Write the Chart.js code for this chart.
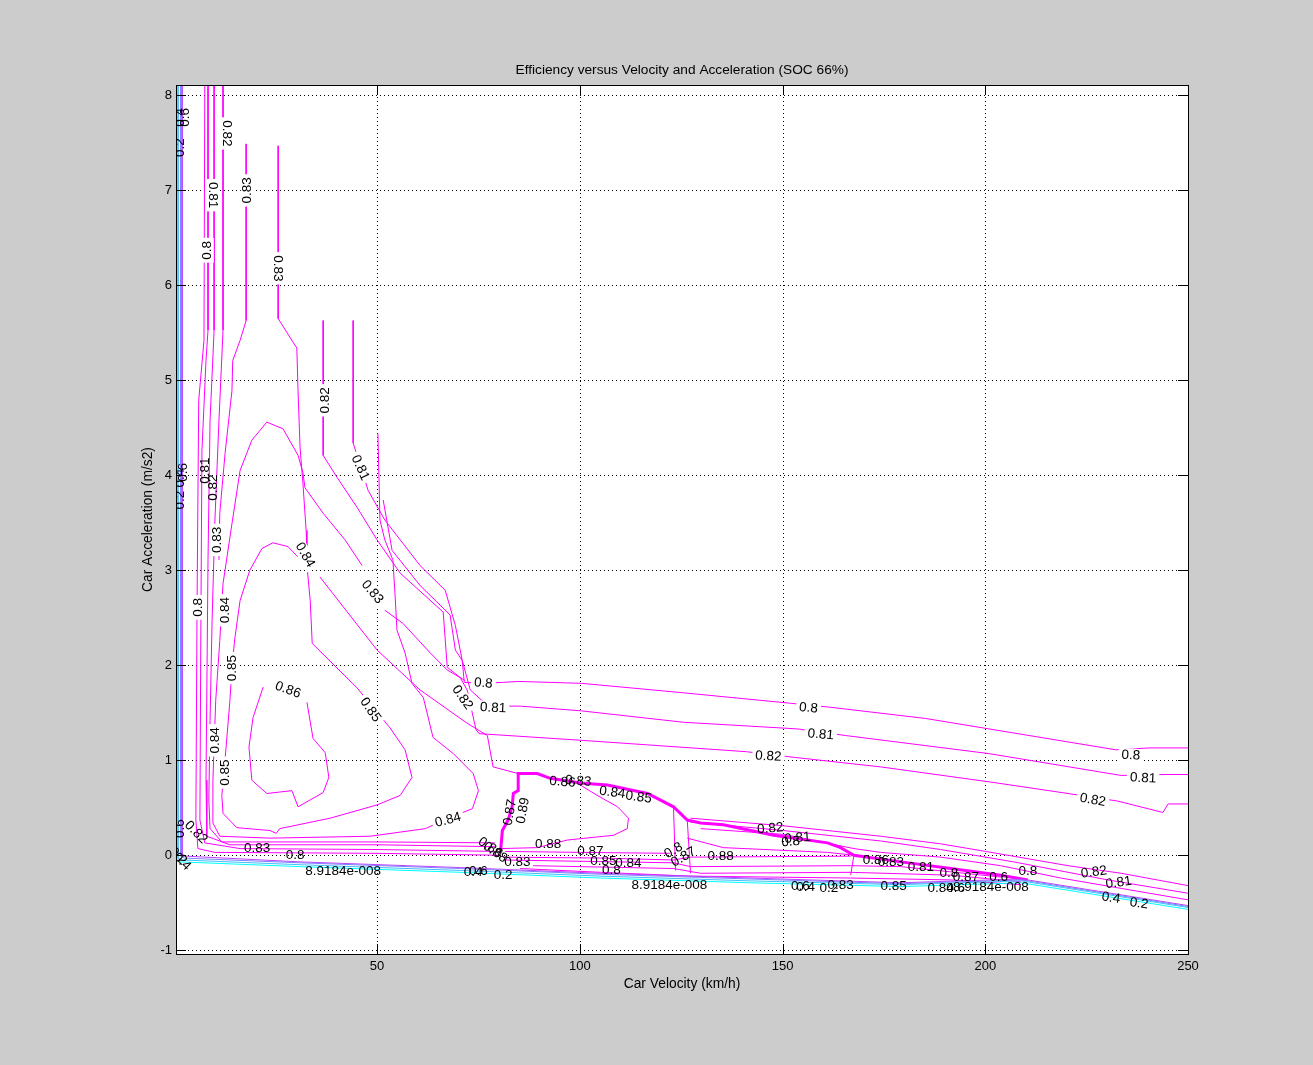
<!DOCTYPE html>
<html>
<head>
<meta charset="utf-8">
<script src="https://cdn.jsdelivr.net/npm/chart.js@4.4.0/dist/chart.umd.min.js"></script>
<style>
	html, body { margin: 0; padding: 0; background: #cccccc; }
	#wrap { width: 1313px; height: 1065px; position: relative; }
</style>
</head>
<body>
<div id="wrap"><canvas id="effChart"></canvas></div>
<script>
// Axis ticks
const xTicks = [50, 100, 150, 200, 250];
const yTicks = [-1, 0, 1, 2, 3, 4, 5, 6, 7, 8];

// Contour lines, [velocity km/h, acceleration m/s2]
const eff000 = [[0.6, 8.11], [0.6, -0.05], [1.4, -0.07], [31, -0.12], [70.5, -0.18], [105.1, -0.24], [142, -0.29], [179.2, -0.33], [208.8, -0.29], [250, -0.57]];
const eff020 = [[0.9, 8.11], [0.9, -0.03], [2, -0.05], [31, -0.1], [70.5, -0.16], [105, -0.22], [142, -0.27], [179, -0.31], [208.8, -0.27], [250, -0.55]];
const eff040 = [[1.6, 8.11], [1.6, -0.01], [2.5, -0.03], [31, -0.08], [70.5, -0.14], [105, -0.2], [142, -0.25], [179, -0.3], [209, -0.26], [250, -0.54]];
const eff060 = [[1.9, 8.11], [1.9, 0.01], [3, -0.01], [31, -0.07], [70.5, -0.13], [105, -0.19], [142, -0.24], [179, -0.29], [209, -0.25], [250, -0.53]];

const eff080Left = [[7.5, 8.11], [7.3, 5.42], [6.0, 4.79], [5.6, 2.68], [5.3, 0.37], [5.8, 0.07], [10, 0.03], [50, 0.02], [80.4, 0]];
const eff081Left = [[8.3, 8.11], [8.3, 5.53], [7.8, 5.21], [6.8, 4.26], [6.5, 2.16], [6.3, 0.37], [7.5, 0.13], [16.2, 0.07], [50, 0.06], [79.6, 0.04]];
const eff082Left = [[9.8, 8.11], [9.8, 5.53], [8.8, 4.58], [8.3, 3.11], [7.8, 0.79], [8.0, 0.2], [13.7, 0.11], [50, 0.11], [79.1, 0.09]];
const eff083Left = [[12, 8.11], [12, 5.53], [11, 4.58], [10, 3.53], [9.3, 2.47], [8.8, 1.42], [8.5, 0.58], [8.8, 0.28], [11.7, 0.14], [50, 0.14], [79.1, 0.13]];
const eff083Top = [[17.7, 7.49], [17.7, 5.63], [16.2, 5.42], [14.4, 5.21], [14.2, 4.89], [12.5, 4.23], [11.2, 3.6], [11, 3.11]];
const eff083Upper = [[25.6, 7.47], [25.6, 5.65], [30.2, 5.34], [30.5, 4.89], [31, 4.29], [31.7, 3.92], [32.5, 3.42], [32.7, 3.21]];

const eff084Loop = [[50.2, 4.44], [50.7, 3.53], [51.9, 3.32], [53.9, 3.11], [54.4, 2.76], [54.9, 2.37], [56.9, 2.13], [58.6, 1.81], [61.4, 1.66], [63.8, 1.24], [68.8, 1.07], [73.7, 0.86], [75, 0.68], [73.5, 0.49], [67.5, 0.39], [61.9, 0.28], [48.3, 0.2], [23.6, 0.18], [11.2, 0.2], [9.5, 0.34], [9.5, 0.79], [10.2, 1.63], [11.2, 2.26], [12, 2.86], [14.2, 3.49], [16.2, 4.05], [19.1, 4.37], [22.8, 4.56], [26.8, 4.49], [30.5, 4.21], [31.7, 4.03], [32.2, 3.87], [36.7, 3.6], [42.1, 3.32], [46.3, 3.05]];
const eff083Diag = [[51.9, 2.58], [56.4, 2.44], [63.1, 2.13], [67.3, 1.95], [71.7, 1.84]];
const eff084Ramp = [[35.9, 2.93], [50, 2.16], [60.6, 1.74], [72.2, 1.39], [77.2, 1.26], [78.6, 0.93], [84.8, 0.86]];
const eff085Loop = [[32.7, 3.05], [33.5, 2.68], [34, 2.23], [45.1, 1.76], [53.2, 1.34], [56.9, 1.11], [58.6, 0.82], [55.7, 0.63], [50, 0.53], [38.4, 0.39], [26, 0.28], [25.1, 0.23], [23.6, 0.26], [15.4, 0.29], [12, 0.44], [11.7, 0.63], [12.7, 1.11], [13.7, 1.63], [14.2, 1.97], [14.9, 2.28], [16.2, 2.68], [18.6, 3.0], [21.6, 3.23], [24.3, 3.29], [28, 3.25], [30.5, 3.14]];
const eff086Loop = [[21.9, 1.77], [19.4, 1.45], [18.4, 1.14], [19.1, 0.79], [22.8, 0.65], [29, 0.68], [30.5, 0.51], [36.7, 0.66], [38.1, 0.82], [37.2, 1.08], [34.2, 1.23], [32.7, 1.61]];

const eff082Long = [[36.7, 5.63], [36.7, 4.21], [40.1, 3.98], [45.1, 3.66], [50, 3.32], [55.7, 2.97], [66.3, 2.56], [67.3, 1.98], [70.5, 1.87], [72.2, 1.74], [74.4, 1.32], [75.2, 1.28], [100.4, 1.21], [141.1, 1.09], [153, 1.03], [174.2, 0.93], [201.4, 0.77], [220.4, 0.65], [232.7, 0.57], [243.8, 0.45], [245.1, 0.54], [250, 0.54]];
const eff081Long = [[44.1, 5.63], [44.1, 4.34], [47.8, 3.84], [51.9, 3.53], [60.6, 3.05], [66.8, 2.79], [69.3, 2.42], [71, 2.05], [73, 1.74], [77.4, 1.57], [85.3, 1.57], [100.4, 1.52], [125.6, 1.4], [153.7, 1.33], [165.6, 1.26], [200.9, 1.07], [233.5, 0.84], [244.1, 0.85], [250, 0.85]];
const eff080Long = [[51.5, 3.74], [53.7, 3.21], [60.6, 2.84], [68, 2.53], [69.3, 2.16], [71, 2.05], [71.5, 1.82], [76.2, 1.81], [81.1, 1.82], [84.8, 1.83], [100.4, 1.81], [125.6, 1.71], [152, 1.6], [161.4, 1.56], [185.3, 1.44], [200.9, 1.33], [232.2, 1.11], [240.6, 1.13], [250, 1.13]];

const eff089Edge = [[80.4, 0.02], [80.9, 0.26], [82.3, 0.37], [83.3, 0.51], [83.6, 0.65], [84.8, 0.68], [84.8, 0.86], [89.5, 0.86], [92.7, 0.81], [100.1, 0.76], [106.8, 0.74], [116.7, 0.65], [123.1, 0.51], [126.5, 0.37], [129.8, 0.34], [135.4, 0.32], [147.8, 0.21], [161.1, 0.13], [164.3, 0.08], [167.6, 0], [179.2, -0.07], [191.5, -0.14], [203.8, -0.21], [210.5, -0.26]];
const eff088Loop = [[80.4, 0.07], [89.5, 0.08], [96.9, 0.16], [108.3, 0.21], [111.7, 0.28], [112, 0.39], [109.3, 0.51], [104.3, 0.63], [100.1, 0.74]];
const eff087Regen = [[81.6, 0.04], [100.1, 0.03], [122.3, 0.02]];
const eff086Regen = [[81.1, -0.02], [105.1, -0.03], [123.1, -0.05], [127.3, -0.02], [166.8, -0.01]];
const eff085Regen = [[81.1, -0.05], [123.1, -0.08], [127.3, -0.12], [166.8, -0.11], [179.2, -0.12], [203.8, -0.23]];
const eff084Regen = [[88.5, -0.11], [123.1, -0.14], [129.8, -0.19], [166.8, -0.18], [191.5, -0.21], [208.8, -0.28]];
const eff083Regen = [[85.3, -0.14], [105.1, -0.18], [127.3, -0.22], [166.8, -0.24], [191.5, -0.26], [208.8, -0.31]];
const eff088Step1 = [[123.1, 0.51], [123.6, -0.16]];
const eff088Step2 = [[126.5, 0.37], [127.3, -0.19]];
const eff088Step3 = [[167.6, 0], [166.8, -0.21]];
const eff088Tail = [[126.5, 0.18], [135.4, 0.08], [161.1, 0.03], [167.6, 0]];

const eff082High = [[127.3, 0.39], [150.2, 0.31], [174.2, 0.2], [189, 0.12], [200.1, 0.04], [220.4, -0.11], [233.5, -0.19], [250, -0.32]];
const eff081High = [[127.3, 0.35], [150.2, 0.26], [174.2, 0.15], [189, 0.06], [207, -0.07], [230.2, -0.26], [250, -0.4]];
const eff080High = [[129.8, 0.28], [150.2, 0.22], [167.6, 0.07], [174.2, 0.03], [189, -0.02], [203.8, -0.11], [218.6, -0.24], [250, -0.47]];

const contours = [
	{ level: 0, pts: eff000 }, { level: 0.2, pts: eff020 }, { level: 0.4, pts: eff040 }, { level: 0.6, pts: eff060 },
	{ level: 0.8, pts: eff080Left }, { level: 0.81, pts: eff081Left }, { level: 0.82, pts: eff082Left },
	{ level: 0.83, pts: eff083Left }, { level: 0.83, pts: eff083Top }, { level: 0.83, pts: eff083Upper },
	{ level: 0.84, pts: eff084Loop }, { level: 0.83, pts: eff083Diag }, { level: 0.84, pts: eff084Ramp },
	{ level: 0.85, pts: eff085Loop }, { level: 0.86, pts: eff086Loop },
	{ level: 0.82, pts: eff082Long }, { level: 0.81, pts: eff081Long }, { level: 0.8, pts: eff080Long },
	{ level: 0.89, pts: eff089Edge, width: 3 }, { level: 0.88, pts: eff088Loop },
	{ level: 0.87, pts: eff087Regen }, { level: 0.86, pts: eff086Regen }, { level: 0.85, pts: eff085Regen },
	{ level: 0.84, pts: eff084Regen }, { level: 0.83, pts: eff083Regen },
	{ level: 0.88, pts: eff088Step1 }, { level: 0.88, pts: eff088Step2 }, { level: 0.88, pts: eff088Step3 }, { level: 0.88, pts: eff088Tail },
	{ level: 0.82, pts: eff082High }, { level: 0.81, pts: eff081High }, { level: 0.8, pts: eff080High },
];

// Contour labels
const labelText = ['0.2', '0.4', '0.6', '0.82', '0.81', '0.83', '0.8', '0.83', '0.82', '0.81',
	'0.4', '0.6', '0.2', '0.81', '0.82', '0.83', '0.84', '0.83', '0.8', '0.84',
	'0.85', '0.86', '0.85', '0.82', '0.8', '0.81', '0.8', '0.81', '0.82', '0.8',
	'0.81', '0.82', '0.84', '0.85', '0.84', '0.83', '0.8', '8.9184e-008', '0.88', '0.87',
	'0.86', '0.83', '0.84', '0.85', '0.87', '0.89', '0.86', '0.88', '0.83', '0.4',
	'0.6', '0.2', '0.85', '0.84', '0.8', '8.9184e-008', '0.87', '0.8', '0.88', '0.82',
	'0.81', '0.8', '0.6', '0.4', '0.2', '0.83', '0.85', '0.86', '0.83', '0.81',
	'0.84', '0.6', '8.9184e-008', '0.87', '0.8', '0.6', '0.8', '0.82', '0.81', '0.4',
	'0.2', '0.6', '0.82', '0.2', '0.4'];
const labelX = [1.4, 1.4, 2.6, 13, 9.5, 18.1, 8, 25.6, 37.2, 45.8,
	1.4, 2.1, 1.4, 7.5, 9.5, 10.7, 32.2, 48.8, 6, 12.5,
	14.2, 28, 48.3, 71, 76.2, 78.6, 156.4, 159.4, 146.5, 235.9,
	238.9, 226.5, 10, 12.5, 67.5, 20.4, 29.8, 41.6, 92.2, 102.6,
	95.7, 99.6, 108, 114.5, 82.8, 86, 77.9, 79.1, 84.6, 73.7,
	75, 81.1, 105.8, 112, 107.8, 122.1, 125.6, 123.1, 134.7, 147,
	153.7, 152, 154.4, 155.7, 161.4, 164.3, 177.4, 173, 176.7, 184.1,
	189, 192.7, 201.4, 195.2, 191, 203.3, 210.5, 226.8, 232.9, 231,
	237.9, 1.4, 5.3, 0.9, 1.9];
const labelY = [7.45, 7.77, 7.77, 7.6, 6.95, 7.0, 6.37, 6.18, 4.79, 4.08,
	3.97, 4.03, 3.74, 4.05, 3.87, 3.32, 3.16, 2.77, 2.61, 2.58,
	1.97, 1.74, 1.53, 1.66, 1.81, 1.55, 1.55, 1.27, 1.04, 1.05,
	0.81, 0.58, 1.21, 0.87, 0.37, 0.07, 0, -0.17, 0.12, 0.04,
	0.77, 0.78, 0.66, 0.61, 0.45, 0.47, 0.08, 0.03, -0.07, -0.18,
	-0.17, -0.21, -0.06, -0.09, -0.16, -0.32, -0.02, 0.05, -0.01, 0.28,
	0.18, 0.14, -0.33, -0.34, -0.35, -0.32, -0.33, -0.05, -0.07, -0.13,
	-0.35, -0.35, -0.34, -0.23, -0.19, -0.23, -0.17, -0.18, -0.29, -0.45,
	-0.51, 0.28, 0.24, -0.01, -0.07];
const labelAngle = [-90, -90, -90, 90, 90, -90, -90, 90, -90, 65,
	-90, -90, -90, -90, -90, -90, 60, 50, -90, -90,
	-90, 20, 55, 55, 5, 3, 5, 5, 3, 3,
	3, 10, -90, -90, -15, 0, 0, 0, 0, 0,
	5, 5, 8, 8, -80, -80, 35, 35, 0, 0,
	0, 0, 0, 0, 0, 0, -30, -30, 0, -5,
	-5, -5, 0, 0, 0, 0, 0, 0, 0, 0,
	0, 0, 0, 0, 0, 0, 0, -8, -8, 8,
	8, -90, 45, 45, 45];
const labelGap = [0, 0, 0, 1, 1, 1, 1, 1, 1, 1,
	0, 0, 0, 0, 0, 1, 1, 1, 1, 1,
	1, 1, 1, 1, 1, 1, 1, 1, 1, 1,
	1, 1, 1, 1, 1, 0, 0, 0, 0, 0,
	0, 0, 0, 0, 0, 0, 0, 0, 0, 0,
	0, 0, 0, 0, 0, 0, 0, 0, 0, 0,
	0, 0, 0, 0, 0, 0, 0, 0, 0, 0,
	0, 0, 0, 0, 0, 0, 0, 0, 0, 0,
	0, 0, 0, 0, 0];

// cool colormap, cyan -> magenta
function levelColor(v) {
	const t = Math.min(1, v / 0.8);
	return `rgb(${Math.round(255 * t)}, ${Math.round(255 * (1 - t))}, 255)`;
}

const datasets = contours.map((c) => ({
	data: c.pts.map((p) => ({ x: p[0], y: p[1] })),
	showLine: true,
	borderColor: levelColor(c.level),
	borderWidth: c.width || 1,
	pointRadius: 0,
	tension: 0,
	fill: false,
}));

const FONT = '"Liberation Sans", Arial, sans-serif';

// white axes box, dotted grid, frame with inward ticks, title
const framePlugin = {
	id: 'frame',
	beforeDraw(chart) {
		const a = chart.chartArea;
		const ctx = chart.ctx;
		ctx.save();
		ctx.fillStyle = '#ffffff';
		ctx.fillRect(a.left, a.top, a.right - a.left, a.bottom - a.top);
		ctx.restore();
	},
	beforeDatasetsDraw(chart) {
		const a = chart.chartArea;
		const { ctx, scales } = chart;
		ctx.save();
		ctx.strokeStyle = '#000000';
		ctx.lineWidth = 1;
		ctx.setLineDash([1, 3]);
		xTicks.forEach((v) => {
			const px = Math.round(scales.x.getPixelForValue(v)) + 0.5;
			ctx.beginPath();
			ctx.moveTo(px, a.top);
			ctx.lineTo(px, a.bottom);
			ctx.stroke();
		});
		yTicks.forEach((v) => {
			const py = Math.round(scales.y.getPixelForValue(v)) + 0.5;
			ctx.beginPath();
			ctx.moveTo(a.left, py);
			ctx.lineTo(a.right, py);
			ctx.stroke();
		});
		ctx.restore();
	},
	afterDraw(chart) {
		const a = chart.chartArea;
		const { ctx, scales } = chart;
		ctx.save();
		ctx.strokeStyle = '#000000';
		ctx.lineWidth = 1;
		ctx.strokeRect(Math.round(a.left) + 0.5, Math.round(a.top) + 0.5, Math.round(a.right - a.left), Math.round(a.bottom - a.top));
		const len = 10;
		xTicks.forEach((v) => {
			const px = Math.round(scales.x.getPixelForValue(v)) + 0.5;
			ctx.beginPath();
			ctx.moveTo(px, a.bottom); ctx.lineTo(px, a.bottom - len);
			ctx.moveTo(px, a.top); ctx.lineTo(px, a.top + len);
			ctx.stroke();
		});
		yTicks.forEach((v) => {
			const py = Math.round(scales.y.getPixelForValue(v)) + 0.5;
			ctx.beginPath();
			ctx.moveTo(a.left, py); ctx.lineTo(a.left + len, py);
			ctx.moveTo(a.right, py); ctx.lineTo(a.right - len, py);
			ctx.stroke();
		});
		ctx.fillStyle = '#000000';
		ctx.font = '13.7px ' + FONT;
		ctx.textAlign = 'center';
		ctx.textBaseline = 'middle';
		ctx.fillText('Efficiency versus Velocity and Acceleration (SOC 66%)', (a.left + a.right) / 2, a.top - 15);
		ctx.restore();
	},
};

// inline contour labels
const labelPlugin = {
	id: 'clabels',
	afterDatasetsDraw(chart) {
		const a = chart.chartArea;
		const { ctx, scales } = chart;
		ctx.save();
		ctx.beginPath();
		ctx.rect(a.left, a.top, a.right - a.left, a.bottom - a.top);
		ctx.clip();
		ctx.font = '13.5px ' + FONT;
		ctx.textAlign = 'center';
		ctx.textBaseline = 'middle';
		for (let pass = 0; pass < 2; pass++) {
			labelText.forEach((t, i) => {
				if (pass === 0 && !labelGap[i]) return;
				const px = scales.x.getPixelForValue(labelX[i]);
				const py = scales.y.getPixelForValue(labelY[i]);
				ctx.save();
				ctx.translate(px, py);
				ctx.rotate((labelAngle[i] * Math.PI) / 180);
				if (pass === 0) {
					const w = ctx.measureText(t).width;
					ctx.fillStyle = '#ffffff';
					ctx.fillRect(-w / 2 - 3, -7, w + 6, 14);
				} else {
					ctx.fillStyle = '#000000';
					ctx.fillText(t, 0, 0);
				}
				ctx.restore();
			});
		}
		ctx.restore();
	},
};

function fixedTicks(list) {
	return function (scale) {
		scale.ticks = list.map((v) => ({ value: v }));
	};
}

new Chart(document.getElementById('effChart'), {
	type: 'scatter',
	data: { datasets: datasets },
	plugins: [framePlugin, labelPlugin],
	options: {
		responsive: true,
		maintainAspectRatio: false,
		animation: false,
		layout: { padding: { left: 136, right: 125, top: 85, bottom: 71 } },
		plugins: {
			legend: { display: false },
			tooltip: { enabled: false },
			title: { display: false },
		},
		scales: {
			x: {
				type: 'linear',
				min: 0.4,
				max: 250,
				afterBuildTicks: fixedTicks(xTicks),
				afterFit(scale) {
					scale.height = 40;
					scale.paddingLeft = 0;
					scale.paddingRight = 0;
				},
				grid: { display: false, drawTicks: false },
				border: { display: false },
				ticks: { color: '#000', font: { size: 13, family: FONT }, padding: 5, maxRotation: 0, autoSkip: false },
				title: { display: true, text: 'Car Velocity (km/h)', color: '#000', font: { size: 13.8, family: FONT }, padding: { top: 4, bottom: 2 } },
			},
			y: {
				type: 'linear',
				min: -1.04,
				max: 8.11,
				afterBuildTicks: fixedTicks(yTicks),
				afterFit(scale) {
					scale.width = 40;
					scale.paddingTop = 0;
					scale.paddingBottom = 0;
				},
				grid: { display: false, drawTicks: false },
				border: { display: false },
				ticks: { color: '#000', font: { size: 13, family: FONT }, padding: 4, autoSkip: false },
				title: { display: true, text: 'Car Acceleration (m/s2)', color: '#000', font: { size: 13.8, family: FONT } },
			},
		},
	},
});
</script>
</body>
</html>
